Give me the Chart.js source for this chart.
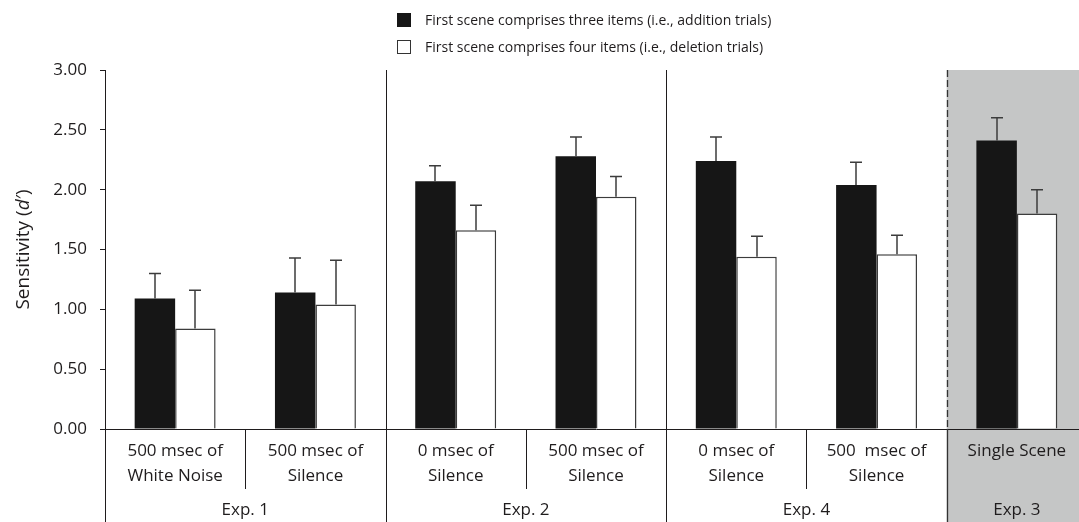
<!DOCTYPE html>
<html><head><meta charset="utf-8">
<script src="https://cdn.jsdelivr.net/npm/chart.js@4/dist/chart.umd.min.js"></script>
<style>
html,body{margin:0;padding:0;overflow:hidden;background:#fff;width:1079px;height:522px}
#wrap{width:1090px;height:522px}
</style></head>
<body><div id="wrap"><canvas id="c" width="1090" height="522"></canvas></div>
<script>
// ---- data ----
const categories = [
  ["500 msec of", "White Noise"],
  ["500 msec of", "Silence"],
  ["0 msec of", "Silence"],
  ["500 msec of", "Silence"],
  ["0 msec of", "Silence"],
  ["500  msec of", "Silence"],
  ["Single Scene"]
];
const groupLabels = ["Exp. 1", "Exp. 2", "Exp. 4", "Exp. 3"];
const groupFirst = [0, 2, 4, 6];
const groupLast = [1, 3, 5, 6];
const seriesNames = [
  "First scene comprises three items (i.e., addition trials)",
  "First scene comprises four items (i.e., deletion trials)"
];
const threeItems = [1.09, 1.14, 2.07, 2.28, 2.24, 2.04, 2.41];
const threeItemsErr = [0.21, 0.29, 0.13, 0.16, 0.20, 0.19, 0.19];
const fourItems = [0.84, 1.04, 1.66, 1.94, 1.44, 1.46, 1.80];
const fourItemsErr = [0.32, 0.37, 0.21, 0.17, 0.17, 0.16, 0.20];
const yMin = 0, yMax = 3, yStep = 0.5;

// ---- styling ----
const FONT = "'Open Sans', 'DejaVu Sans', sans-serif";
const INK = '#1f1c1d';
const errors = [threeItemsErr, fourItemsErr];

const overlay = {
  id: 'overlay',
  beforeDraw(chart) {
    const {ctx, chartArea, scales: {x}} = chart;
    const half = (x.getPixelForValue(1) - x.getPixelForValue(0)) / 2;
    const left = x.getPixelForValue(6) - half;
    ctx.save();
    ctx.fillStyle = '#c5c6c6';
    ctx.fillRect(left, chartArea.top, chart.width - left, chart.height - chartArea.top);
    ctx.restore();
  },
  afterDatasetsDraw(chart) {
    const {ctx, scales: {y}} = chart;
    ctx.save();
    ctx.strokeStyle = '#3c3c3c';
    ctx.lineWidth = 1.5;
    chart.data.datasets.forEach((ds, di) => {
      const meta = chart.getDatasetMeta(di);
      meta.data.forEach((el, i) => {
        const v = ds.data[i], e = errors[di][i];
        const x0 = Math.round(el.x);
        const yTop = y.getPixelForValue(v + e);
        const yBar = y.getPixelForValue(v);
        ctx.beginPath();
        ctx.moveTo(x0, yBar);
        ctx.lineTo(x0, yTop);
        ctx.moveTo(x0 - 6, yTop);
        ctx.lineTo(x0 + 6, yTop);
        ctx.stroke();
      });
    });
    ctx.restore();
  },
  afterDraw(chart) {
    const {ctx, chartArea, scales: {x, y}} = chart;
    const H = chart.height;
    const px = i => x.getPixelForValue(i);
    ctx.save();
    ctx.strokeStyle = INK;
    ctx.lineWidth = 1;
    const vline = (xx, y0, y1, dash) => {
      ctx.setLineDash(dash || []);
      ctx.beginPath();
      const xr = Math.round(xx) + 0.5;
      ctx.moveTo(xr, y0); ctx.lineTo(xr, y1);
      ctx.stroke();
      ctx.setLineDash([]);
    };
    // left axis extension below plot
    vline(chartArea.left - 0.5, chartArea.bottom, H);
    for (let i = 1; i < categories.length; i++) {
      const bx = (px(i - 1) + px(i)) / 2;
      if (i === 6) {
        ctx.strokeStyle = '#333';
        ctx.lineWidth = 1.3;
        vline(bx, chartArea.top, chartArea.bottom, [7, 3]);
        vline(bx, chartArea.bottom, H);
        ctx.strokeStyle = INK;
        ctx.lineWidth = 1;
      } else if (groupFirst.includes(i)) {
        vline(bx, chartArea.top, H);
      } else {
        vline(bx, chartArea.bottom, chartArea.bottom + 60);
      }
    }
    // group labels
    ctx.fillStyle = INK;
    ctx.font = "17px " + FONT;
    ctx.textAlign = 'center';
    ctx.textBaseline = 'middle';
    groupLabels.forEach((g, k) => {
      const cx = (px(groupFirst[k]) + px(groupLast[k])) / 2;
      ctx.fillText(g, cx, 510);
    });
    // legend
    ctx.font = "14px " + FONT;
    ctx.textAlign = 'left';
    chart.data.datasets.forEach((ds, di) => {
      const cy = 20 + di * 27;
      ctx.fillStyle = ds.backgroundColor;
      ctx.fillRect(397, cy - 7, 14, 14);
      if (di === 1) {
        ctx.strokeStyle = '#333';
        ctx.lineWidth = 1;
        ctx.strokeRect(397.5, cy - 6.5, 13, 13);
      }
      ctx.fillStyle = INK;
      ctx.fillText(ds.label, 425, cy + 1);
    });
    // y title with italic d
    const parts = [["Sensitivity (", "normal"], ["d", "italic"], ["\u2032)", "normal"]];
    const TS = 19;
    let total = 0;
    const widths = parts.map(([t, s]) => {
      ctx.font = s + " " + TS + "px " + FONT;
      const w = ctx.measureText(t).width; total += w; return w;
    });
    ctx.translate(24, (chartArea.top + chartArea.bottom) / 2);
    ctx.rotate(-Math.PI / 2);
    let cur = -total / 2;
    ctx.textAlign = 'left';
    parts.forEach(([t, s], k) => {
      ctx.font = s + " " + TS + "px " + FONT;
      ctx.fillText(t, cur, 0);
      cur += widths[k];
    });
    ctx.restore();
  }
};

new Chart(document.getElementById('c'), {
  type: 'bar',
  data: {
    labels: categories,
    datasets: [
      {label: seriesNames[0], data: threeItems, backgroundColor: '#161616', borderWidth: 0},
      {label: seriesNames[1], data: fourItems, backgroundColor: '#ffffff', borderColor: '#3c3c3c', borderWidth: 1.5}
    ]
  },
  options: {
    responsive: false,
    animation: false,
    devicePixelRatio: 1,
    layout: {padding: {top: 70, left: 0, right: 3, bottom: 0}},
    datasets: {bar: {categoryPercentage: 0.577, barPercentage: 1}},
    plugins: {legend: {display: false}, tooltip: {enabled: false}},
    scales: {
      x: {
        grid: {display: false, drawTicks: false},
        border: {display: true, color: INK, width: 1},
        ticks: {color: INK, font: {family: FONT, size: 17, lineHeight: 1.47}, padding: 10, maxRotation: 0, autoSkip: false},
        afterFit(s) { s.height = 93; }
      },
      y: {
        min: yMin, max: yMax,
        ticks: {stepSize: yStep, color: INK, font: {family: FONT, size: 17}, padding: 13,
                callback: v => Number(v).toFixed(2)},
        grid: {drawOnChartArea: false, drawTicks: true, tickLength: 5, color: INK},
        border: {display: true, color: INK, width: 1},
        afterFit(s) { s.width = 105; }
      }
    }
  },
  plugins: [overlay]
});
</script>
</body></html>
